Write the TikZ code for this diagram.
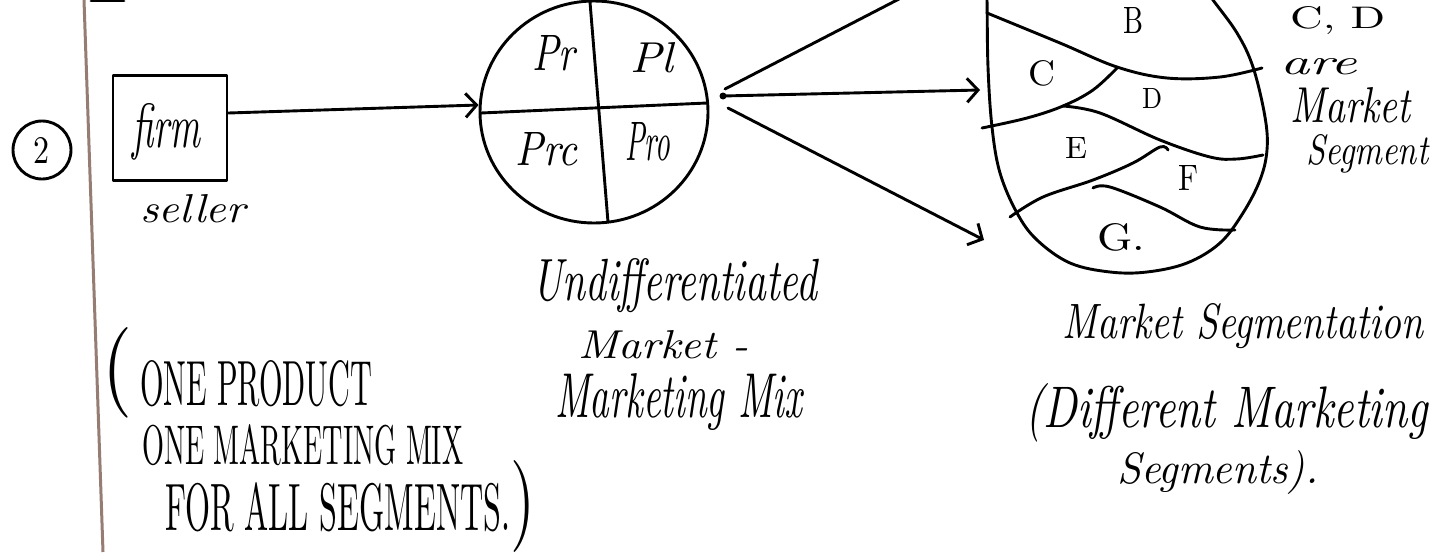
\documentclass[tikz,border=0pt]{standalone}
\usetikzlibrary{arrows.meta,shapes.geometric}
\definecolor{marginline}{RGB}{150,125,115}
\newcommand{\hw}[3]{\resizebox{#1pt}{#2pt}{#3}}
\begin{document}
\begin{tikzpicture}[x=1pt,y=-1pt,
  ink/.style={line width=2.9pt, line cap=round, line join=round, draw=black},
  lbl/.style={inner sep=0pt, anchor=base west},
  hand/.style={lbl, font=\itshape},
  arr/.style={ink, -{Straight Barb[length=11pt,width=24pt]}},
]
\useasboundingbox (0,0) rectangle (1430,552);
\fill[white] (0,0) rectangle (1430,552);

% margin line and top stroke
\draw[line width=3pt, marginline] (84,0) -- (103,552);
\draw[ink] (91,1) -- (124,1);

% circled number
\node[ink, circle, minimum size=58pt, inner sep=0pt] (num) at (42,150) {\hw{16}{26}{2}};

% firm box
\node[ink, rectangle, minimum width=114pt, minimum height=105pt, inner sep=0pt] (firm) at (170,128) {};
\node[hand] (firmtext) at (132,147) {\hw{68}{44}{firm}};
\node[hand] (seller) at (140,222) {\hw{105}{28}{seller}};

% marketing mix circle
\node[ink, ellipse, minimum width=228pt, minimum height=222pt, inner sep=0pt] (mix) at (594,112) {};
\draw[ink] (590,2) -- (608,222);
\draw[ink] (481,113) -- (707,103);
\node[hand] (pr)  at (532,70)  {\hw{43}{35}{Pr}};
\node[hand] (pl)  at (630,72)  {\hw{43}{30}{Pl}};
\node[hand] (prc) at (515,165) {\hw{62}{33}{Prc}};
\node[hand] (pro) at (625,160) {\hw{45}{38}{Pro}};

% arrow firm -> mix
\draw[arr] ([yshift=15pt]firm.east) -- ([yshift=7pt]mix.west);

% hub and three lines
\coordinate (hub) at (723,96);
\coordinate (hubup) at (725,89);
\coordinate (up) at (899,-1);
\coordinate (midend) at (980,90);
\coordinate (lowstart) at (728,108);
\coordinate (lowend) at (984,240);
\fill (hub) circle (3.5pt);
\draw[ink] (hubup) -- (up);
\draw[arr] (hub) -- (midend);
\draw[arr] (lowstart) -- (lowend);

% egg of segments
\draw[ink] plot[smooth, tension=0.6] coordinates {
  (986,-12) (987,0) (988,67) (992,127) (1000,173) (1017,213) (1037,240)
  (1070,263) (1110,272) (1147,272) (1187,263) (1220,243) (1243,213)
  (1260,180) (1267,150) (1265,117) (1253,67) (1237,33) (1213,0) (1205,-12)};
\draw[ink] plot[smooth, tension=0.6] coordinates {
  (987,13) (1060,43) (1117,67) (1167,78) (1220,77) (1262,68)};
\draw[ink] plot[smooth, tension=0.6] coordinates {
  (982,128) (1027,118) (1063,106) (1093,90) (1117,68)};
\draw[ink] plot[smooth, tension=0.6] coordinates {
  (1063,106) (1100,113) (1160,140) (1210,157) (1237,159) (1263,155)};
\draw[ink] plot[smooth, tension=0.6] coordinates {
  (1010,217) (1043,197) (1093,180) (1133,163) (1160,147) (1168,150)};
\draw[ink] plot[smooth, tension=0.6] coordinates {
  (1093,188) (1110,187) (1160,207) (1200,227) (1235,230)};
\node[lbl] (sb) at (1123,33)  {\hw{20}{26}{B}};
\node[lbl] (sc) at (1028,85)  {\hw{27}{25}{C}};
\node[lbl] (sd) at (1142,108) {\hw{20}{20}{D}};
\node[lbl] (se) at (1065,158) {\hw{22}{21}{E}};
\node[lbl] (sf) at (1178,190) {\hw{20}{25}{F}};
\node[lbl] (sg) at (1097,250) {\hw{48}{27}{G.}};

% side note
\node[lbl]  (cd)   at (1290,28)  {\hw{95}{22}{C, D}};
\node[hand] (are)  at (1280,74)  {\hw{77}{16}{are}};
\node[hand] (mkt)  at (1290,122) {\hw{120}{35}{Market}};
\node[hand] (sgm)  at (1306,164) {\hw{122}{30}{Segment}};

% bottom-left note
\node[lbl] (lp)  at (102,395) {\hw{30}{68}{(}};
\node[lbl] (n1)  at (140,405) {\hw{232}{45}{ONE PRODUCT}};
\node[lbl] (n2)  at (142,464) {\hw{321}{40}{ONE MARKETING MIX}};
\node[lbl] (n3)  at (165,530) {\hw{345}{48}{FOR ALL SEGMENTS.}};
\node[lbl] (rp)  at (510,529) {\hw{25}{69}{)}};

% captions
\node[hand] (u1) at (532,300) {\hw{285}{42}{Undifferentiated}};
\node[hand] (u2) at (578,358) {\hw{170}{28}{Market -}};
\node[hand] (u3) at (555,417) {\hw{247}{44}{Marketing Mix}};
\node[hand] (m1) at (1062,338) {\hw{361}{35}{Market Segmentation}};
\node[hand] (m2) at (1025,427) {\hw{403}{44}{(Different Marketing}};
\node[hand] (m3) at (1117,483) {\hw{201}{33}{Segments).}};
\end{tikzpicture}
\end{document}
